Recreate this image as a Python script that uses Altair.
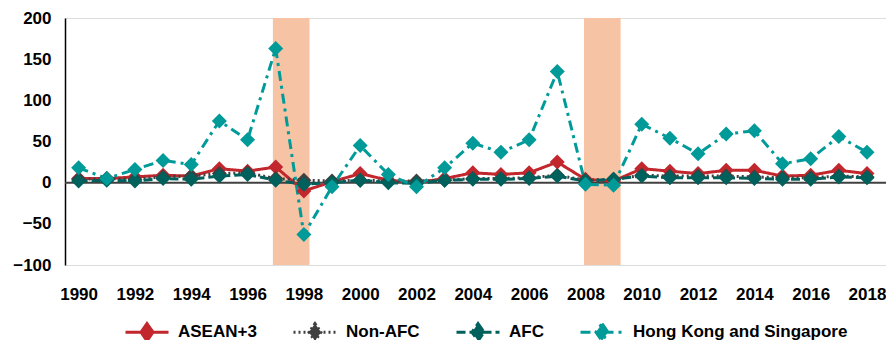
import altair as alt
import pandas as pd

years = list(range(1990, 2019))
asean = [5, 5, 7, 9, 8, 17, 14, 19, -10, 1, 11, 3, 0, 5, 12, 10, 12, 25, 4, 2, 17, 14, 11, 15, 15, 8, 9, 15, 11]
non_afc = [4, 5, 4, 7, 8, 11, 12, 5, 3, 2, 3, 2, 2, 3, 5, 5, 6, 9, 3, 4, 9, 8, 8, 8, 7, 6, 6, 8, 7]
afc = [2, 3, 2, 5, 4, 8, 10, 3, -2, 0, 3, 0, -1, 3, 4, 4, 5, 8, 2, 4, 8, 6, 6, 6, 5, 4, 4, 7, 6]
hks = [18, 5, 16, 27, 22, 75, 52, 163, -63, -5, 45, 10, -5, 18, 48, 37, 52, 135, -2, -3, 71, 54, 35, 59, 63, 23, 29, 56, 37]

series_names = ["ASEAN+3", "Non-AFC", "AFC", "Hong Kong and Singapore"]
series_colors = ["#C1272D", "#404040", "#00605C", "#009A98"]
series_dashes = [[1, 0], [2, 3], [9, 4], [10, 5, 3, 5]]

crisis_start = [1996.9, 2007.95]
crisis_end = [1998.2, 2009.25]

x_ticks = years[::2]
y_ticks = [-100, -50, 0, 50, 100, 150, 200]

rows = []
for name, vals in zip(series_names, [asean, non_afc, afc, hks]):
    for yr, v in zip(years, vals):
        rows.append({"year": yr, "value": v, "series": name})
df = pd.DataFrame(rows)

bands = pd.DataFrame({"start": crisis_start, "end": crisis_end, "lo": [-100, -100], "hi": [200, 200]})
zero = pd.DataFrame({"v": [0]})

FONT = "Liberation Sans"
FS = 17

xscale = alt.Scale(domain=[1989.517, 2018.675], nice=False, zero=False)
yscale = alt.Scale(domain=[-100, 200], nice=False)
color_scale = alt.Scale(domain=series_names, range=series_colors)
dash_scale = alt.Scale(domain=series_names, range=series_dashes)

legend_def = alt.Legend(
    title=None,
    orient="none",
    legendX=59,
    legendY=291,
    direction="horizontal",
    symbolType="M-1,0L1,0M0,-0.4L0.28,0L0,0.4L-0.28,0Z",
    symbolSize=1849,
    symbolStrokeWidth=3,
    labelFont=FONT,
    labelFontSize=FS,
    labelFontWeight="bold",
    labelColor="#000000",
    labelOffset=8,
    columnPadding=30,
    labelLimit=400,
)

band_layer = alt.Chart(bands).mark_rect(color="#F6C4A4", opacity=1).encode(
    x=alt.X("start:Q", scale=xscale,
            axis=alt.Axis(values=x_ticks, format="d", title=None, domain=False, ticks=False,
                          grid=False, labelFont=FONT, labelFontSize=FS, labelFontWeight="bold",
                          labelColor="#000000", labelPadding=21)),
    x2="end:Q",
    y=alt.Y("lo:Q", scale=yscale,
            axis=alt.Axis(values=y_ticks, format="d", title=None, domain=True, domainColor="#000000",
                          domainWidth=1.5, ticks=False, grid=False, labelFont=FONT, labelFontSize=FS,
                          labelFontWeight="bold", labelColor="#000000", labelPadding=14)),
    y2="hi:Q",
)

zero_layer = alt.Chart(zero).mark_rule(color="#404040", strokeWidth=2).encode(y=alt.Y("v:Q", scale=yscale))

line_layer = alt.Chart(df).mark_line(strokeWidth=3, strokeCap="butt").encode(
    x=alt.X("year:Q", scale=xscale),
    y=alt.Y("value:Q", scale=yscale),
    color=alt.Color("series:N", scale=color_scale, sort=series_names, legend=None),
    strokeDash=alt.StrokeDash("series:N", scale=dash_scale, sort=series_names, legend=None),
    order=alt.Order("year:Q"),
)

point_layer = alt.Chart(df).mark_point(shape="diamond", filled=True, size=225, opacity=1, strokeWidth=3).encode(
    x=alt.X("year:Q", scale=xscale),
    y=alt.Y("value:Q", scale=yscale),
    color=alt.Color("series:N", scale=color_scale, sort=series_names, legend=legend_def),
    stroke=alt.Stroke("series:N", scale=color_scale, sort=series_names, legend=legend_def),
    strokeDash=alt.StrokeDash("series:N", scale=dash_scale, sort=series_names, legend=legend_def),
    strokeWidth=alt.value(0),
)

chart = alt.layer(band_layer, zero_layer, line_layer, point_layer).resolve_legend(
    color="independent", strokeDash="independent", stroke="independent"
).properties(
    width=821,
    height=247,
    autosize=alt.AutoSizeParams(type="none"),
    padding={"left": 57, "top": 10, "right": 0, "bottom": 75},
).configure_view(stroke=None).configure(font=FONT)

chart.save("out.html", embed_options={"renderer": "svg", "actions": False})
